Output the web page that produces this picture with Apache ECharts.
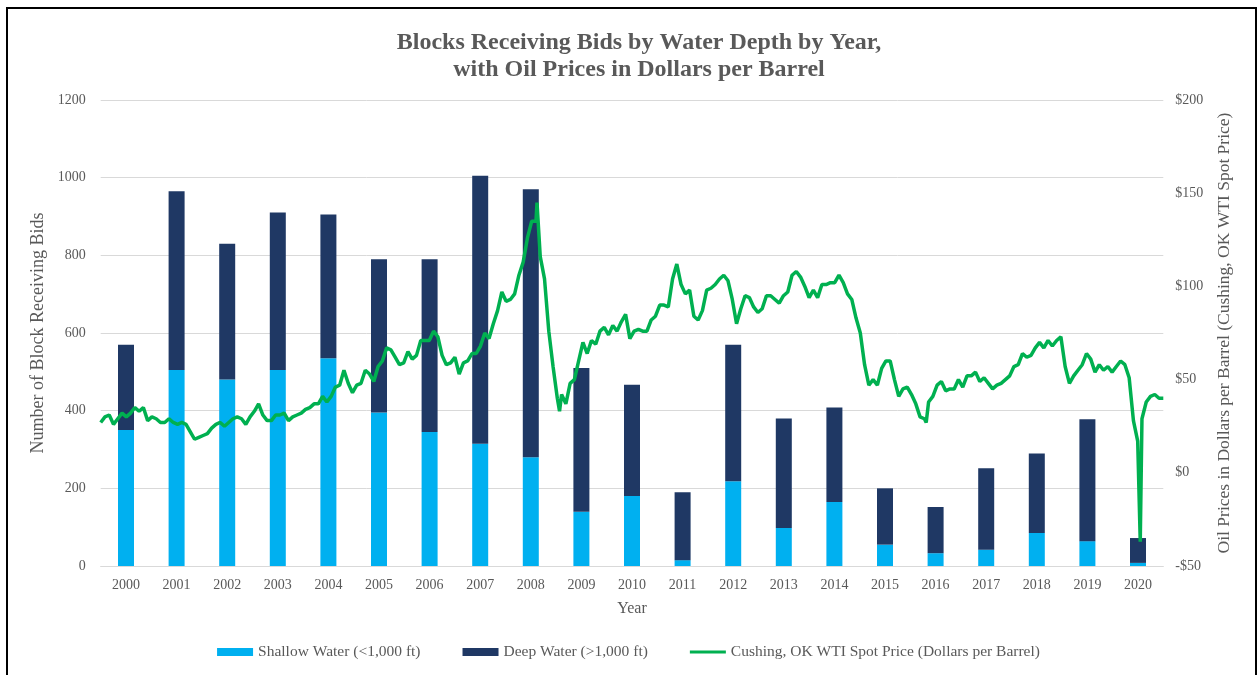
<!DOCTYPE html>
<html>
<head>
<meta charset="utf-8">
<script src="https://cdn.jsdelivr.net/npm/echarts@6/dist/echarts.min.js"></script>
<style>
html,body{margin:0;padding:0;background:#fff;}
#frame{position:absolute;left:6px;top:7px;width:1247px;height:680px;border:2px solid #000;border-bottom:none;}
#chart{position:absolute;left:0;top:0;width:1257px;height:675px;}
</style>
</head>
<body>
<div id="frame"></div>
<div id="chart"></div>
<script>
// ---------- DATA ----------
const years = ['2000','2001','2002','2003','2004','2005','2006','2007','2008','2009','2010',
               '2011','2012','2013','2014','2015','2016','2017','2018','2019','2020'];
const shallowWater = [350,505,480,505,535,395,345,315,280,140,180,15,218,98,165,55,33,42,85,64,8];
const totalBids    = [570,965,830,910,905,790,790,1005,970,510,467,190,570,380,408,200,152,252,290,378,72];
const deepWater = totalBids.map((t,i)=>t-shallowWater[i]);

const leftTicks = [0,200,400,600,800,1000,1200];
const rightTicks = [-50,0,50,100,150,200];

// WTI Cushing spot price, monthly readings Jan 2000 .. Oct 2020 (dollars per barrel)
const oil2000 = [27,30,31,26,29,32,30,32,35,33,35,28];
const oil2001 = [30,29,27,27,29,27,26,27,26,22,18,19];
const oil2002 = [20,21,24,26,27,25,27,29,30,29,26,30];
const oil2003 = [33,37,31,28,28,31,31,32,28,30,31,32];
const oil2004 = [34,35,37,37,41,38,41,46,47,55,48,43];
const oil2005 = [47,48,55,53,49,57,60,67,66,62,58,59];
const oil2006 = [65,61,63,71,71,71,76,73,63,58,59,62];
const oil2007 = [53,59,60,64,64,68,75,72,80,87,97,92];
const oil2008 = [93,96,106,113,126,135,135,116,104,76,57,40];
const oil2009 = [42,37,48,50,60,70,64,71,69,76,78,74];
const oil2010 = [79,76,81,85,72,76,77,76,76,82,84,90];
const oil2011 = [90,89,104,112,101,96,98,84,82,87,98,99];
const oil2012 = [101,104,106,103,93,80,88,95,94,89,86,88];
const oil2013 = [95,95,93,91,95,97,106,108,105,100,94,98];
const oil2014 = [94,101,101,102,102,106,102,96,93,83,75,58];
const oil2015 = [47,50,47,56,60,60,50,41,45,46,42,37];
const oil2016 = [30,29,38,41,47,49,44,45,45,50,46,52];
const oil2017 = [52,54,49,51,48,45,47,48,50,52,57,58];
const oil2018 = [64,62,63,67,70,67,71,68,71,73,57,48];
const oil2019 = [52,55,58,64,61,54,58,55,57,54,57,60];
const oil2020 = [58,51,28,17,29,38,41,42,40,40];
// daily extremes
const spikeDates  = [2008.52, 2008.96, 2016.12, 2020.30];
const spikeValues = [145, 33, 27, -37];

const oilByYear = [oil2000,oil2001,oil2002,oil2003,oil2004,oil2005,oil2006,oil2007,oil2008,oil2009,oil2010,
                   oil2011,oil2012,oil2013,oil2014,oil2015,oil2016,oil2017,oil2018,oil2019,oil2020];
let oilPoints = [];
oilByYear.forEach((arr,yi)=>arr.forEach((v,m)=>oilPoints.push([2000+yi+m/12, v])));
spikeDates.forEach((d,i)=>oilPoints.push([d, spikeValues[i]]));
oilPoints.sort((a,b)=>a[0]-b[0]);
const lastDate = oilPoints[oilPoints.length-1][0];

// ---------- CHART ----------
const font = 'Liberation Serif, Times New Roman, serif';
const txt = '#595959';
const chart = echarts.init(document.getElementById('chart'), null, {renderer:'canvas'});
chart.setOption({
  animation:false,
  backgroundColor:'transparent',
  title:{
    text:'Blocks Receiving Bids by Water Depth by Year,\nwith Oil Prices in Dollars per Barrel',
    left:634, textAlign:'center', top:24,
    textStyle:{fontFamily:font, fontSize:24, fontWeight:'bold', color:txt, lineHeight:27}
  },
  grid:{left:100.7, right:93.7, top:100, bottom:109},
  legend:{
    bottom:10, left:'center', itemGap:42, itemWidth:36, itemHeight:8,
    textStyle:{fontFamily:font, fontSize:15.5, color:txt},
    data:[
      {name:'Shallow Water (<1,000 ft)', icon:'rect'},
      {name:'Deep Water (>1,000 ft)', icon:'rect'},
      {name:'Cushing, OK WTI Spot Price (Dollars per Barrel)', icon:'path://M0,0H36V3H0Z'}
    ]
  },
  xAxis:[
    {type:'category', data:years,
     axisLine:{lineStyle:{color:'#d9d9d9'}}, axisTick:{show:false},
     axisLabel:{fontFamily:font, fontSize:14, color:txt, margin:12},
     name:'Year', nameLocation:'middle', nameGap:35,
     nameTextStyle:{fontFamily:font, fontSize:16, color:txt}},
    {type:'value', min:2000, max:lastDate, show:false}
  ],
  yAxis:[
    {type:'value', min:0, max:1200, interval:200,
     axisLine:{show:false}, axisTick:{show:false},
     splitLine:{lineStyle:{color:'#d9d9d9'}},
     axisLabel:{fontFamily:font, fontSize:14, color:txt, margin:15, formatter:v=>String(v)},
     name:'Number of Block Receiving Bids', nameLocation:'middle', nameGap:50, nameRotate:90,
     nameTextStyle:{fontFamily:font, fontSize:18, color:txt}},
    {type:'value', min:-50, max:200, interval:50, position:'right',
     axisLine:{show:false}, axisTick:{show:false}, splitLine:{show:false},
     axisLabel:{fontFamily:font, fontSize:14, color:txt, margin:12,
       formatter:v=> (v<0?'-$':'$')+Math.abs(v)},
     name:'Oil Prices in Dollars per Barrel (Cushing, OK WTI Spot Price)', nameLocation:'middle', nameGap:52, nameRotate:90,
     nameTextStyle:{fontFamily:font, fontSize:17.5, color:txt}}
  ],
  series:[
    {name:'Shallow Water (<1,000 ft)', type:'bar', stack:'bids', barWidth:16,
     itemStyle:{color:'#00b0f0'}, data:shallowWater},
    {name:'Deep Water (>1,000 ft)', type:'bar', stack:'bids', barWidth:16,
     itemStyle:{color:'#1f3864'}, data:deepWater},
    {name:'Cushing, OK WTI Spot Price (Dollars per Barrel)', type:'line',
     xAxisIndex:1, yAxisIndex:1, symbol:'none', smooth:false,
     lineStyle:{color:'#00b050', width:3.5}, itemStyle:{color:'#00b050'},
     data:oilPoints, z:5}
  ]
});
</script>
</body>
</html>
